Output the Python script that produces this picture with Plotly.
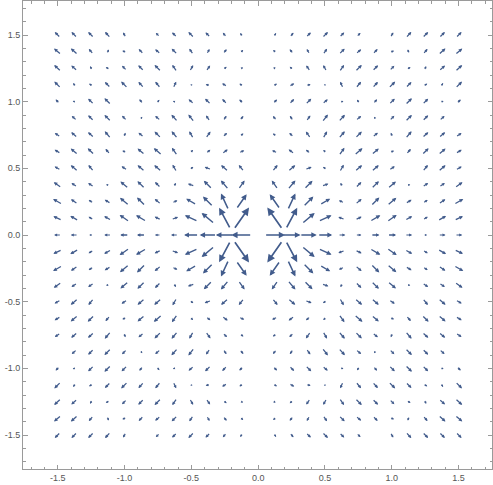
import numpy as np
import plotly.graph_objects as go

# Grid sample positions (upper-left quadrant; the field is mirror-symmetric about both axes)
COL_X = [-1.5, -1.375, -1.25, -1.125, -1.0, -0.875, -0.75, -0.625, -0.5, -0.375, -0.25, -0.125]
ROW_Y = [1.5, 1.375, 1.25, 1.125, 1.0, 0.875, 0.75, 0.625, 0.5, 0.375, 0.25, 0.125]

# Arrow directions (degrees from +x), upper-left quadrant, rows top->bottom
ANGLE = [
    [135, 135, 135, 132, 120,  45, 135, 135, 135, 135, 130, 120],
    [140, 138, 130,  70, 155, 135, 140, 135, 125,  60,  50,  45],
    [138, 138, 115, 150, 135, 135, 135, 125,  60,  55,  40,  30],
    [135, 120, 150, 135, 135, 132, 130,  65,  20, 170, 150, 148],
    [135, 160, 135, 135, 135, 130,  55, 165, 140, 135, 135, 135],
    [ 45, 138, 135, 135, 135,  60, 140, 132, 128, 125,  55,  50],
    [145, 140, 138, 130,  65, 140, 135, 130, 120,  55,  40,  35],
    [150, 140, 135, 130, 155, 140, 140, 125,  45,  40,  35,  25],
    [150, 140, 130,  45, 145, 140, 140, 120,  35, 160, 140, 130],
    [145, 145, 145, 170, 140, 135, 135,  55, 160, 135, 130,  55],
    [150, 145, 145, 150, 140, 135, 140,  25, 150, 135, 115,  55],
    [155, 150, 150, 150, 145, 150, 155,  20, 155, 140, 118,  55],
]

# Arrow magnitudes (drawn length units), same layout
MAGNITUDE = [
    [7, 7, 7, 7, 5, 2, 5, 6, 7, 6, 5, 4],
    [8, 8, 6, 4, 4, 6, 6, 7, 6, 5, 5, 4],
    [8, 7, 4, 4, 6, 7, 8, 7, 6, 6, 4, 3],
    [8, 4, 4, 7, 8, 7, 7, 6, 2, 4, 5, 4],
    [5, 3, 7, 8, 7, 5, 4, 3, 6, 7, 6, 5],
    [2, 6, 7, 8, 6, 3, 6, 8, 8, 6, 5, 5],
    [6, 7, 7, 8, 4, 6, 8, 8, 7, 7, 5, 4],
    [6, 8, 8, 6, 4, 8, 9, 8, 4, 5, 6, 5],
    [6, 8, 7, 2, 6, 8, 8, 7, 4, 6, 8, 7],
    [8, 6, 6, 3, 9, 9, 7, 4, 6, 10, 10, 9],
    [9, 7, 5, 6, 10, 10, 7, 5, 10, 12, 15, 15],
    [8, 8, 5, 7, 10, 10, 6, 6, 12, 14, 20, 22],
]

# Magnitudes along y = 0 (arrows point away from x = 0), x from -1.5 to -0.125
AXIS_MAGNITUDE = [6, 6, 3, 6, 7, 7, 5, 6, 12, 14, 15, 17]

TICK_VALS = [-1.5, -1.0, -0.5, 0.0, 0.5, 1.0, 1.5]
TICK_TEXT = ["-1.5", "-1.0", "-0.5", "0.0", "0.5", "1.0", "1.5"]

ARROW_COLOR = "rgb(66,92,140)"
FRAME_COLOR = "#9a9a9a"
SCALE = 1.2 / 133.4  # magnitude unit -> data units

vectors = []  # (x, y, u, v, m)
for r, y in enumerate(ROW_Y):
    for c, x in enumerate(COL_X):
        th = np.deg2rad(ANGLE[r][c])
        m = MAGNITUDE[r][c]
        u, v = m * np.cos(th), m * np.sin(th)
        for sx in (1, -1):
            for sy in (1, -1):
                vectors.append((x * sx, y * sy, u * sx, v * sy, m))
for c, x in enumerate(COL_X):
    m = AXIS_MAGNITUDE[c]
    vectors.append((x, 0.0, -m, 0.0, m))
    vectors.append((-x, 0.0, m, 0.0, m))

annotations = []
for x, y, u, v, m in vectors:
    du, dv = u * SCALE / 2, v * SCALE / 2
    w = 1.05 + 0.03 * m
    head = 0.3 * m + 1.2
    s = max(0.3, head / (5.0 * w))
    annotations.append(dict(
        x=x + du, y=y + dv, ax=x - du, ay=y - dv,
        xref="x", yref="y", axref="x", ayref="y",
        text="", showarrow=True, arrowhead=2, arrowsize=s,
        arrowwidth=w, arrowcolor=ARROW_COLOR, standoff=0, startstandoff=0,
    ))

minor_vals = [round(-1.7 + 0.1 * i, 1) for i in range(35)]
minor_vals = [t for t in minor_vals if abs(t * 2 - round(t * 2)) > 1e-6]

fig = go.Figure()
fig.add_trace(go.Scatter(x=[None], y=[None], mode="markers", showlegend=False, hoverinfo="skip"))

axis_common = dict(
    tickmode="array", tickvals=TICK_VALS, ticktext=TICK_TEXT,
    ticks="inside", ticklen=4.5, tickwidth=1, tickcolor=FRAME_COLOR,
    showline=True, linecolor=FRAME_COLOR, linewidth=1, mirror="allticks",
    showgrid=False, zeroline=False, automargin=False,
    tickfont=dict(family="Liberation Sans, Arial, sans-serif", size=9, color="#555555"),
    minor=dict(tickmode="array", tickvals=minor_vals, ticks="inside", ticklen=2.5,
               tickwidth=1, tickcolor=FRAME_COLOR, showgrid=False),
)

fig.update_layout(
    width=493, height=485,
    margin=dict(l=23, r=1, t=1, b=16),
    paper_bgcolor="white", plot_bgcolor="white",
    xaxis=dict(range=[-1.76, 1.75], **axis_common),
    yaxis=dict(range=[-1.755, 1.755], **axis_common),
    annotations=annotations,
    showlegend=False,
)

fig.write_html("out.html", config={"displayModeBar": False},
               post_script="document.body.style.margin='0';")
